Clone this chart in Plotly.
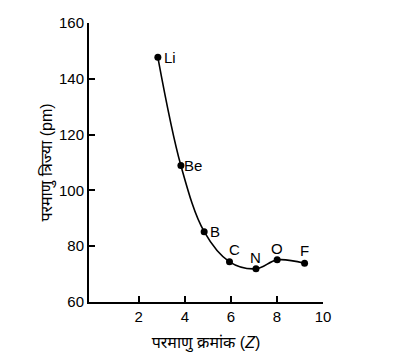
import plotly.graph_objects as go

elements = ["Li", "Be", "B", "C", "N", "O", "F"]
atomic_number = [2.83, 3.83, 4.84, 5.94, 7.09, 8.01, 9.2]
radius_pm = [147.7, 108.9, 85.2, 74.4, 71.9, 75.1, 73.9]
label_dx = [12, 12, 11, 5, 0, 0, 0]
label_dy = [0, 0, 0, 12, 11, 11, 13]
x_ticks = [2, 4, 6, 8, 10]
y_ticks = [60, 80, 100, 120, 140, 160]

FONT = "Liberation Sans, Arial, Noto Sans, sans-serif"

fig = go.Figure()
fig.add_trace(go.Scatter(
    x=atomic_number, y=radius_pm, mode="lines+markers",
    line=dict(color="black", width=1.6, shape="spline", smoothing=1.0),
    marker=dict(color="black", size=7),
    showlegend=False, hoverinfo="skip",
))

for el, xv, yv, dx, dy in zip(elements, atomic_number, radius_pm, label_dx, label_dy):
    fig.add_annotation(x=xv, y=yv, text=el, showarrow=False, xshift=dx, yshift=dy,
                       font=dict(size=15, color="black", family=FONT))

fig.update_layout(
    width=402, height=353,
    margin=dict(l=89, r=79, t=23, b=51),
    plot_bgcolor="white", paper_bgcolor="white",
    font=dict(family=FONT, size=15, color="black"),
    xaxis=dict(range=[-0.16, 10], tickvals=x_ticks, ticks="inside", ticklen=6,
               tickwidth=1.5, tickcolor="black", showline=True, linecolor="black",
               linewidth=2, showgrid=False, zeroline=False, automargin=False,
               tickfont=dict(size=15, color="black"),
               title=dict(text="परमाणु क्रमांक (<i>Z</i>)", standoff=13,
                          font=dict(size=16, color="black"))),
    yaxis=dict(range=[60, 160], tickvals=y_ticks, ticks="inside", ticklen=6,
               tickwidth=1.5, tickcolor="black", showline=True, linecolor="black",
               linewidth=2, showgrid=False, zeroline=False, automargin=False,
               tickfont=dict(size=15, color="black"),
               title=dict(text="परमाणु त्रिज्या (pm)", standoff=2,
                          font=dict(size=16, color="black"))),
)

fig.write_html("out.html")
